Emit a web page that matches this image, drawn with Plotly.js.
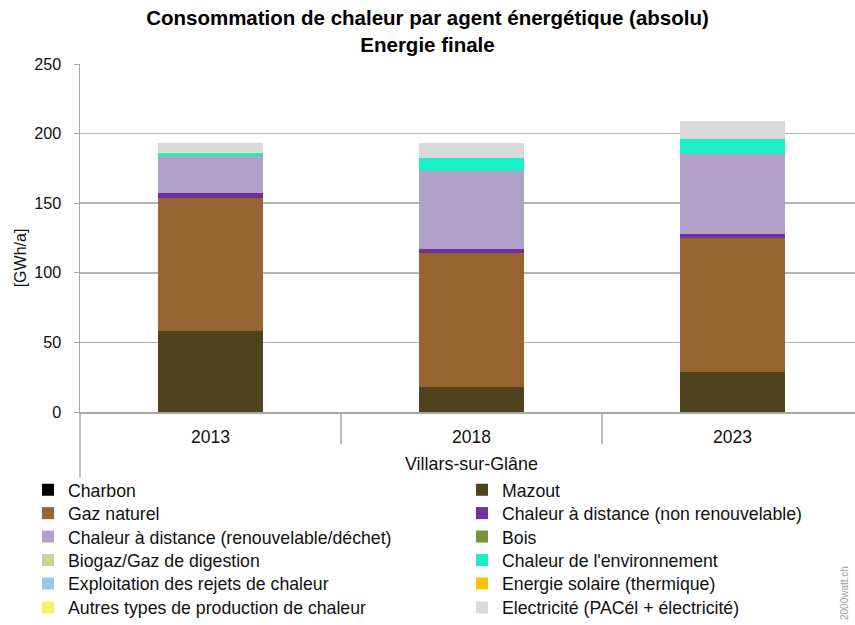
<!DOCTYPE html>
<html>
<head>
<meta charset="utf-8">
<script src="https://cdn.plot.ly/plotly-3.0.1.min.js"></script>
<style>html,body{margin:0;padding:0;background:#fff;}#chart{width:855px;height:625px;}</style>
</head>
<body>
<div id="chart"></div>
<script>
// ---- data ----
const years = ["2013", "2018", "2023"];
const region = "Villars-sur-Glâne";
const unitLabel = "[GWh/a]";
const seriesNames = [
  "Charbon", "Mazout",
  "Gaz naturel", "Chaleur à distance (non renouvelable)",
  "Chaleur à distance (renouvelable/déchet)", "Bois",
  "Biogaz/Gaz de digestion", "Chaleur de l'environnement",
  "Exploitation des rejets de chaleur", "Energie solaire (thermique)",
  "Autres types de production de chaleur", "Electricité (PACél + électricité)"
];
const charbon   = [0, 0, 0];
const mazout    = [58.3, 18.0, 28.6];
const gaz       = [95.3, 95.9, 96.5];
const cadNonRen = [3.6, 3.1, 2.9];
const cadRen    = [26.6, 56.2, 57.4];
const bois      = [0, 0, 0];
const biogaz    = [0, 0, 0];
const environ   = [2.2, 9.3, 10.4];
const rejets    = [0, 0, 0];
const solaire   = [0, 0.2, 0.4];
const autres    = [0.6, 0, 0];
const electr    = [6.7, 10.6, 13.2];
const seriesValues = [charbon, mazout, gaz, cadNonRen, cadRen, bois, biogaz, environ, rejets, solaire, autres, electr];
const yTicks = [0, 50, 100, 150, 200, 250];

// ---- styles ----
const colors = ["#000000", "#4f421c", "#976532", "#7030a0", "#b1a0c7", "#77933c",
                "#c3d69b", "#1aefc6", "#95c8f0", "#ffc000", "#f2f266", "#d9d9d9"];
const FONT = "Liberation Sans, Arial, sans-serif";

const W = 855, H = 625;
const mL = 80, mR = 0, mT = 63.5, mB = 213.2;
const plotW = W - mL - mR, plotH = H - mT - mB;
const xRange = [-0.5, -0.5 + plotW / 261];
const pxToPaperX = px => (px - mL) / plotW;
const pxToPaperY = py => (H - mB - py) / plotH;
const dataToPaperX = v => (v - xRange[0]) / (xRange[1] - xRange[0]);

const traces = seriesNames.map((name, i) => ({
  type: "bar",
  name: name,
  x: years,
  y: seriesValues[i],
  marker: {color: colors[i], line: {width: 0}},
  legend: i === 0 ? "legend" : "legend" + (i + 1),
  showlegend: true,
  hoverinfo: "name+y"
}));

const layout = {
  width: W, height: H,
  margin: {l: mL, r: mR, t: mT, b: mB, autoexpand: false},
  paper_bgcolor: "#ffffff",
  plot_bgcolor: "#ffffff",
  showlegend: true,
  barmode: "stack",
  bargap: 0.6,
  font: {family: FONT, color: "#111"},
  title: {
    text: "<b>Consommation de chaleur par agent énergétique (absolu)<br>Energie finale</b>",
    font: {family: FONT, size: 20.5, color: "#000"},
    x: 0.5, xref: "container", xanchor: "center",
    y: 1 - 25 / H, yref: "container", yanchor: "middle"
  },
  xaxis: {
    type: "category",
    range: xRange,
    showline: true, linecolor: "#a6a6a6", linewidth: 1.5,
    ticks: "outside", ticklen: 8, tickcolor: "rgba(0,0,0,0)",
    tickfont: {family: FONT, size: 17.5, color: "#111"},
    showgrid: false, zeroline: false, fixedrange: true
  },
  yaxis: {
    range: [0, 250],
    tickvals: yTicks,
    ticktext: yTicks.map(String),
    showline: true, linecolor: "#a6a6a6", linewidth: 1.5,
    ticks: "outside", ticklen: 5, tickcolor: "#a6a6a6",
    ticklabelstandoff: 9,
    tickfont: {family: FONT, size: 16.2, color: "#111"},
    showgrid: true, gridcolor: "#b4b4b4", gridwidth: 1.5,
    zeroline: false, fixedrange: true
  },
  shapes: [],
  annotations: [
    {
      text: region, xref: "x", x: 1, yref: "paper", y: pxToPaperY(464),
      xanchor: "center", yanchor: "middle", showarrow: false,
      font: {family: FONT, size: 17.9, color: "#111"}
    },
    {
      text: unitLabel, xref: "paper", x: pxToPaperX(20), yref: "paper", y: pxToPaperY(258),
      xanchor: "center", yanchor: "middle", showarrow: false, textangle: -90,
      font: {family: FONT, size: 16, color: "#111"}
    },
    {
      text: "2000watt.ch", xref: "paper", x: pxToPaperX(844), yref: "paper", y: pxToPaperY(593),
      xanchor: "center", yanchor: "middle", showarrow: false, textangle: -90,
      font: {family: FONT, size: 10, color: "#a0a0a0"}
    }
  ]
};

// category dividers (Excel-like multi-level axis)
[0.5, 1.5].forEach(b => {
  layout.shapes.push({
    type: "line", xref: "paper", yref: "paper",
    x0: dataToPaperX(b), x1: dataToPaperX(b), y0: 0, y1: pxToPaperY(444),
    line: {color: "#a6a6a6", width: 1.5}
  });
});
layout.shapes.push({
  type: "line", xref: "paper", yref: "paper",
  x0: 0, x1: 0, y0: 0, y1: pxToPaperY(477),
  line: {color: "#a6a6a6", width: 1.5}
});

// legends: two columns, row-major
const rowY = [490, 513.5, 537, 560.5, 584, 608];
const colTextX = [68, 502];
seriesNames.forEach((n, i) => {
  const key = i === 0 ? "legend" : "legend" + (i + 1);
  const row = Math.floor(i / 2), col = i % 2;
  layout[key] = {
    x: pxToPaperX(colTextX[col] - 40), xref: "paper", xanchor: "left",
    y: pxToPaperY(rowY[row]), yref: "paper", yanchor: "middle",
    bgcolor: "rgba(0,0,0,0)", borderwidth: 0,
    font: {family: FONT, size: 17.7, color: "#111"},
    orientation: "v"
  };
});

Plotly.newPlot("chart", traces, layout, {displayModeBar: false, staticPlot: true});
</script>
</body>
</html>
